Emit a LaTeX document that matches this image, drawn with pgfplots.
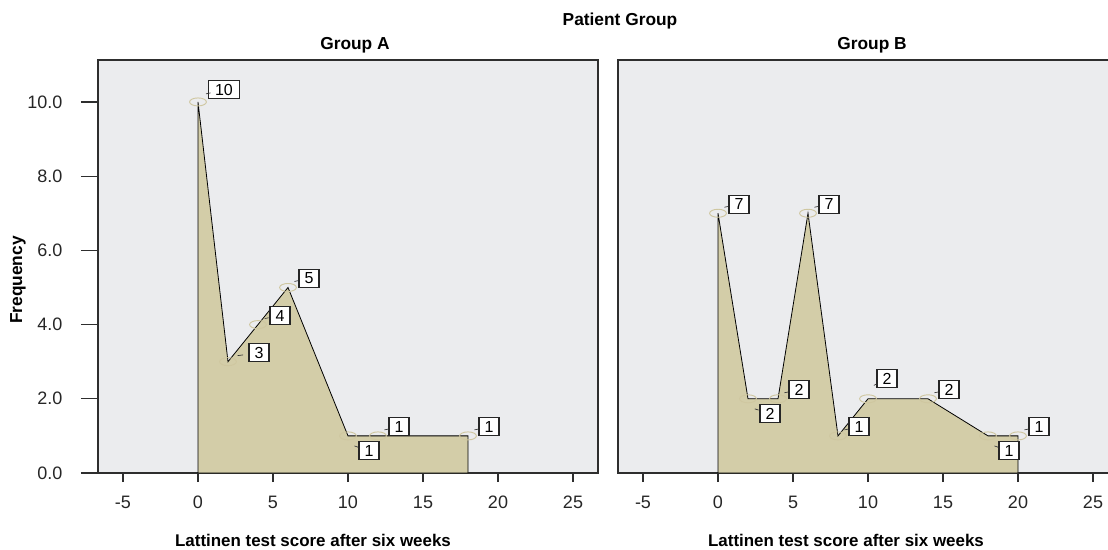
\documentclass[border=0pt]{standalone}
\usepackage{fontspec}
\setmainfont{Liberation Sans}
\usepackage{pgfplots}
\pgfplotsset{compat=1.18}
\usepackage{pgfplotstable}
\usetikzlibrary{calc}

\definecolor{bgc}{HTML}{EBECEE}
\definecolor{areac}{HTML}{D3CDA8}
\definecolor{ellc}{HTML}{CFC7A0}
\definecolor{axc}{HTML}{2E2E2E}

\pgfplotstableread{
x y dx dy w lab
0 10 26 12 31 10
2 3 31 9 20 3
4 4 22 9 20 4
6 5 21 9 20 5
10 1 21 -15 20 1
12 1 21 9 20 1
18 1 21 9 20 1
}\dataA

\pgfplotstableread{
x y dx dy w lab
0 7 21 9 20 7
2 2 22 -15 20 2
4 2 21 9 20 2
6 7 21 9 20 7
8 1 21 9 20 1
10 2 19 20 20 2
14 2 21 9 20 2
18 1 21 -15 20 1
20 1 21 9 20 1
}\dataB

\pgfplotsset{
  panel/.style={
    scale only axis, width=375pt, height=309.75pt,
    xmin=-6.6667, xmax=26.6667, ymin=0, ymax=11.13,
    axis line style={axc, line width=0.9pt},
    tick style={axc, line width=0.9pt},
    tick align=outside,
    xtick pos=left, ytick pos=left,
    major tick length=6.75pt,
    tick label style={font=\fontsize{13.5}{14}\selectfont, text=black!85},
    xticklabel style={yshift=-7pt},
    yticklabel style={xshift=-16.5pt},
  },
  areaplot/.style={fill=areac, draw=black, line width=0.6pt},
  labplot/.style={
    only marks, mark=o, mark size=3pt,
    mark options={draw=ellc, xscale=2.1, line width=0.7pt},
    point meta=explicit symbolic,
    visualization depends on={\thisrow{dx} \as \dx},
    visualization depends on={\thisrow{dy} \as \dy},
    visualization depends on={\thisrow{w} \as \w},
    nodes near coords,
    nodes near coords style={
      anchor=center, xshift=\dx*0.75pt, yshift=\dy*0.75pt,
      font=\fontsize{12}{12}\selectfont, text=black,
      fill=white, draw=black!85, line width=0.8pt, inner sep=0pt,
      minimum height=13.5pt, minimum width=\w*0.75pt,
      append after command={
        ($(\tikzlastnode.center)+({-0.33*\dx*0.75pt},{-0.33*\dy*0.75pt})$)
        edge[draw=black!80, line width=0.5pt]
        ($(\tikzlastnode.center)+({-0.245*\dx*0.75pt},{-0.245*\dy*0.75pt})$)
      },
    },
  },
}

\begin{document}
\begin{tikzpicture}
\begin{axis}[panel, at={(73.5pt,-354.75pt)}, anchor=south west,
  axis background/.style={fill=bgc},
  xtick={-5,0,5,10,15,20,25}, xticklabels={-5,0,5,10,15,20,25},
  ytick={0,2,4,6,8,10}, yticklabels={0.0,2.0,4.0,6.0,8.0,10.0},
  y tick style={draw=none}]
  \addplot[areaplot] table[x=x,y=y]{\dataA} \closedcycle;
  \addplot[labplot] table[x=x,y=y,meta=lab]{\dataA};
\end{axis}
\begin{axis}[panel, at={(73.5pt,-354.75pt)}, anchor=south west,
  axis line style={draw=none}, major tick length=12.75pt,
  xtick=\empty, ytick={0,2,4,6,8,10}, yticklabels=\empty]
  \addplot[draw=none] coordinates {(0,0)};
\end{axis}
\begin{axis}[panel, at={(463.5pt,-354.75pt)}, anchor=south west,
  axis background/.style={fill=bgc},
  xtick={-5,0,5,10,15,20,25}, xticklabels={-5,0,5,10,15,20,25},
  ytick=\empty]
  \addplot[areaplot] table[x=x,y=y]{\dataB} \closedcycle;
  \addplot[labplot] table[x=x,y=y,meta=lab]{\dataB};
\end{axis}
\node[font=\bfseries\fontsize{13}{13}\selectfont, anchor=base] at (465pt,-18.75pt) {Patient Group};
\node[font=\bfseries\fontsize{13}{13}\selectfont, anchor=base] at (266.25pt,-36.75pt) {Group A};
\node[font=\bfseries\fontsize{13}{13}\selectfont, anchor=base] at (654pt,-36.75pt) {Group B};
\node[font=\bfseries\fontsize{13}{13}\selectfont, rotate=90] at (13.5pt,-210pt) {Frequency};
\node[font=\bfseries\fontsize{12.7}{13}\selectfont, anchor=base] at (234.75pt,-410pt) {Lattinen test score after six weeks};
\node[font=\bfseries\fontsize{12.7}{13}\selectfont, anchor=base] at (634.5pt,-410pt) {Lattinen test score after six weeks};
\pgfresetboundingbox
\path[use as bounding box] (0pt,0pt) rectangle (831pt,-412.5pt);
\end{tikzpicture}
\end{document}
